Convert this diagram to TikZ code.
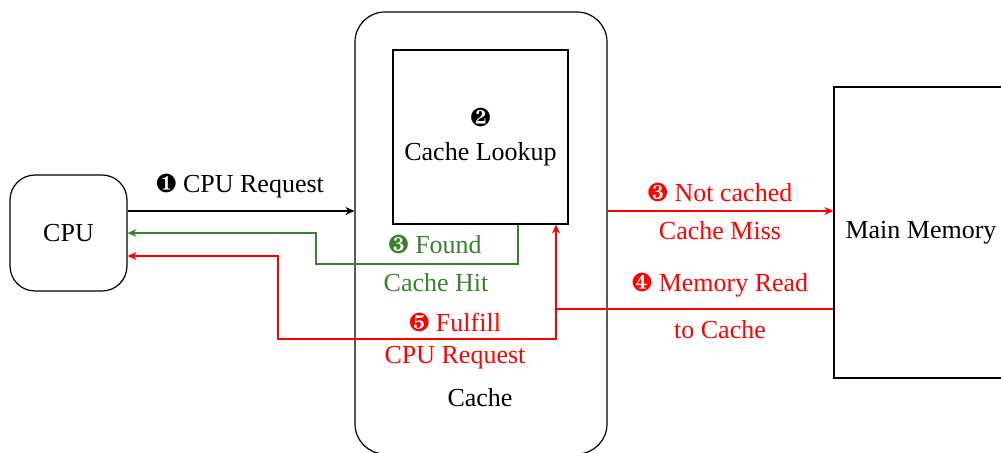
\documentclass[tikz,border=0pt]{standalone}
\usepackage{fontspec}
\setmainfont{Liberation Serif}
\usepackage{pifont}
\usetikzlibrary{arrows.meta}
\definecolor{hitgreen}{RGB}{58,128,48}
\tikzset{
  every node/.style={font=\fontsize{13}{16}\selectfont},
  box/.style={draw, line width=0.6pt, inner sep=0pt},
  conn/.style={line width=0.6pt, -{Stealth[length=4.5pt,width=4pt,inset=1.5pt]}},
  plain/.style={line width=0.6pt},
  lbl/.style={inner sep=1pt}
}
\begin{document}
\begin{tikzpicture}[x=0.5pt,y=-0.5pt]
\useasboundingbox (0,0) rectangle (1001,453);
\clip (0,0) rectangle (1001,453);
% nodes
\node[box, rounded corners=12.5pt, minimum width=58.5pt, minimum height=58pt] (cpu) at (68.5,233) {CPU};
\node[box, rounded corners=15pt, minimum width=126pt, minimum height=221pt] (cache) at (481,233) {};
\node[lbl] (cachelbl) at (480,398) {Cache};
\node[box, minimum width=87.5pt, minimum height=87pt, align=center] (lookup) at (480.5,137) {\ding{183}\\[1pt]Cache Lookup};
\node[box, minimum width=87pt, minimum height=145.5pt] (mem) at (921,232.5) {Main Memory};
% connectors
\draw[conn] (cpu.east |- 0,211) -- (cache.west |- 0,211);
\node[lbl] (l1) at (240,186) {\ding{182} CPU Request};

\draw[conn, hitgreen] (lookup.south -| 518,0) |- (316,264) |- (cpu.east |- 0,233);
\node[lbl, text=hitgreen] (l3a) at (435,244) {\ding{184} Found};
\node[lbl, text=hitgreen] (l3b) at (436,283) {Cache Hit};

\draw[conn, red] (cache.east |- 0,211) -- (mem.west |- 0,211);
\node[lbl, text=red] (l3c) at (720,192) {\ding{184} Not cached};
\node[lbl, text=red] (l3d) at (720,231) {Cache Miss};

\draw[conn, red] (mem.west |- 0,309) -| (lookup.south -| 556,0);
\node[lbl, text=red] (l4a) at (720,285) {\ding{185} Memory Read};
\node[lbl, text=red] (l4b) at (720,330) {to Cache};

\draw[conn, red] (556,309) |- (278,339) |- (cpu.east |- 0,256);
\node[lbl, text=red] (l5a) at (455,322) {\ding{186} Fulfill};
\node[lbl, text=red] (l5b) at (455,358) {CPU Request};
\end{tikzpicture}
\end{document}
